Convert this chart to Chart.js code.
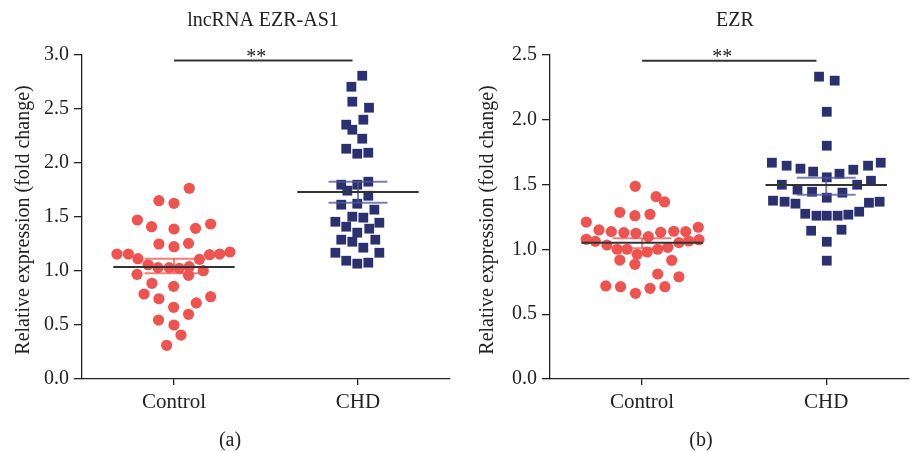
<!DOCTYPE html>
<html lang="en">

<head>
    <meta charset="UTF-8">
    <title>lncRNA EZR-AS1 / EZR</title>
    <script src="https://cdn.jsdelivr.net/npm/chart.js"></script>
    <style>
        body { margin: 0; background: #fff; }
        canvas { position: absolute; top: 0; }
    </style>
</head>

<body>
    <canvas id="chartA" width="470" height="451" style="left:0"></canvas>
    <canvas id="chartB" width="446" height="451" style="left:470px"></canvas>
</body>

<script>

    const categories = ['Control', 'CHD']

    // panel (a) lncRNA EZR-AS1
    const aYTicks = [0, 0.5, 1.0, 1.5, 2.0, 2.5, 3.0]
    const aControlX = [1.083, 0.918, 1.0, 0.801, 0.878, 1.0, 1.117, 1.199, 0.918, 1.0, 1.079, 0.690, 0.752, 0.804, 1.138, 1.193, 1.248, 1.304, 0.859, 0.913, 0.974, 1.029, 1.083, 0.799, 1.079, 1.159, 0.880, 0.998, 0.837, 0.918, 1.199, 1.121, 0.998, 1.079, 0.916, 1.0, 1.038, 0.960]
    const aControlY = [1.766, 1.651, 1.627, 1.472, 1.410, 1.389, 1.395, 1.435, 1.250, 1.225, 1.256, 1.157, 1.157, 1.114, 1.108, 1.151, 1.157, 1.176, 1.058, 1.031, 1.031, 1.025, 1.040, 0.969, 0.960, 1.003, 0.886, 0.858, 0.787, 0.743, 0.762, 0.704, 0.664, 0.599, 0.546, 0.500, 0.407, 0.312]
    const aChdX = [2.023, 1.964, 1.969, 2.060, 2.029, 1.936, 1.969, 2.023, 1.936, 1.996, 2.056, 1.909, 1.996, 2.056, 1.942, 2.056, 1.909, 1.996, 2.089, 1.969, 2.029, 1.877, 1.936, 2.116, 1.996, 2.061, 1.909, 1.969, 2.094, 2.029, 1.877, 2.116, 1.936, 1.996, 2.056]
    const aChdY = [2.808, 2.706, 2.568, 2.512, 2.401, 2.355, 2.308, 2.225, 2.132, 2.086, 2.095, 1.799, 1.799, 1.827, 1.744, 1.697, 1.614, 1.623, 1.568, 1.503, 1.494, 1.456, 1.410, 1.447, 1.355, 1.392, 1.290, 1.271, 1.290, 1.216, 1.169, 1.169, 1.095, 1.068, 1.077]
    const aMean = [1.037, 1.731]
    const aSemHi = [1.114, 1.827]
    const aSemLo = [0.979, 1.632]
    const aSigX = [1.0, 1.97]
    const aSigY = 2.95

    // panel (b) EZR
    const bYTicks = [0, 0.5, 1.0, 1.5, 2.0, 2.5]
    const bControlX = [0.963, 1.076, 1.122, 0.879, 0.961, 1.043, 0.697, 0.766, 0.833, 0.901, 0.966, 1.034, 1.101, 1.172, 1.237, 1.305, 0.697, 0.746, 0.809, 0.865, 0.918, 0.973, 1.028, 1.085, 1.140, 1.200, 1.253, 1.309, 0.879, 0.961, 1.161, 1.085, 1.200, 0.803, 0.883, 0.964, 1.043, 1.124]
    const bControlY = [1.487, 1.407, 1.366, 1.286, 1.260, 1.271, 1.211, 1.150, 1.137, 1.129, 1.124, 1.098, 1.132, 1.140, 1.137, 1.171, 1.078, 1.062, 1.034, 1.001, 1.001, 0.962, 0.980, 1.001, 1.016, 1.052, 1.065, 1.075, 0.918, 0.885, 0.916, 0.810, 0.789, 0.718, 0.712, 0.661, 0.700, 0.712]
    const bChdX = [1.961, 2.046, 2.003, 2.003, 1.705, 1.785, 1.860, 1.929, 2.003, 2.072, 2.147, 2.227, 2.296, 1.759, 1.844, 1.923, 2.003, 2.088, 2.168, 2.243, 1.711, 1.774, 1.833, 2.232, 2.290, 1.886, 1.947, 2.003, 2.062, 2.120, 2.179, 1.918, 2.083, 2.003, 2.003]
    const bChdY = [2.333, 2.302, 2.062, 1.800, 1.669, 1.646, 1.623, 1.600, 1.556, 1.584, 1.615, 1.646, 1.669, 1.499, 1.461, 1.445, 1.399, 1.438, 1.499, 1.530, 1.376, 1.368, 1.353, 1.360, 1.368, 1.275, 1.260, 1.260, 1.260, 1.268, 1.291, 1.144, 1.152, 1.059, 0.913]
    const bMean = [1.052, 1.497]
    const bSemHi = [1.086, 1.553]
    const bSemLo = [1.008, 1.422]
    const bSigX = [1.0, 1.947]
    const bSigY = 2.455

    const RED = '#EF5350'
    const BLUE = '#2B3070'
    const FONT = '"Liberation Serif", "DejaVu Serif", serif'

    function seg(x1, y1, x2, y2, color, width) {
        return {
            type: 'line', data: [{ x: x1, y: y1 }, { x: x2, y: y2 }],
            borderColor: color, borderWidth: width, pointRadius: 0, order: 1
        }
    }

    function groupSets(xs, ys, center, mean, hi, lo, color, style, radius, semColor) {
        return [
            {
                type: 'scatter', data: xs.map((x, i) => ({ x, y: ys[i] })),
                backgroundColor: color, borderWidth: 0,
                pointStyle: style, pointRadius: radius, order: 2
            },
            seg(center - 0.33, mean, center + 0.33, mean, '#333', 2),
            seg(center - 0.16, hi, center + 0.16, hi, semColor, 2),
            seg(center - 0.16, lo, center + 0.16, lo, semColor, 2),
            seg(center, lo, center, hi, semColor, 2)
        ]
    }

    function textPlugin(cfg) {
        return {
            id: 'texts',
            afterDraw(chart) {
                const ctx = chart.ctx
                const x = chart.scales.x
                ctx.save()
                ctx.fillStyle = '#222'
                ctx.font = '20px ' + FONT
                ctx.textAlign = 'center'
                ctx.textBaseline = 'alphabetic'
                ctx.fillText(cfg.title, cfg.titleX, 26)
                const starX = (x.getPixelForValue(cfg.sigX[0]) + x.getPixelForValue(cfg.sigX[1])) / 2 - 7
                ctx.fillText('**', starX, 63)
                ctx.fillText(cfg.panel, cfg.panelX, 446)
                ctx.translate(cfg.yTitleX, 220)
                ctx.rotate(-Math.PI / 2)
                ctx.textBaseline = 'middle'
                ctx.fillText('Relative expression (fold change)', 0, 0)
                ctx.restore()
            }
        }
    }

    function makeChart(id, cfg) {
        const datasets = [
            ...groupSets(cfg.ctrlX, cfg.ctrlY, 1, cfg.mean[0], cfg.hi[0], cfg.lo[0], RED, 'circle', 5.6, 'rgba(239,83,80,0.75)'),
            ...groupSets(cfg.chdX, cfg.chdY, 2, cfg.mean[1], cfg.hi[1], cfg.lo[1], BLUE, 'rect', 6.9, 'rgba(80,86,150,0.75)'),
            seg(cfg.sigX[0], cfg.sigY, cfg.sigX[1], cfg.sigY, '#333', 2)
        ]
        return new Chart(document.getElementById(id), {
            type: 'scatter',
            data: { datasets },
            options: {
                responsive: false,
                animation: false,
                layout: { padding: { top: 55, right: cfg.rightPad, left: 0, bottom: 0 } },
                plugins: { legend: { display: false }, tooltip: { enabled: false } },
                scales: {
                    x: {
                        type: 'linear', min: 0.5, max: cfg.xMax,
                        afterBuildTicks: s => { s.ticks = [{ value: 1 }, { value: 2 }] },
                        afterFit: s => { s.height = 72 },
                        ticks: {
                            callback: v => categories[v - 1],
                            color: '#222', font: { family: FONT, size: 21 }, padding: 5, maxRotation: 0
                        },
                        grid: { drawOnChartArea: false, tickLength: 6, color: '#222', lineWidth: 1.3 },
                        border: { color: '#222', width: 1.3 }
                    },
                    y: {
                        min: 0, max: cfg.yTicks[cfg.yTicks.length - 1],
                        afterBuildTicks: s => { s.ticks = cfg.yTicks.map(value => ({ value })) },
                        afterFit: s => { s.width = cfg.yWidth },
                        ticks: {
                            callback: v => v.toFixed(1),
                            color: '#222', font: { family: FONT, size: 20 }, padding: 5
                        },
                        grid: { drawOnChartArea: false, tickLength: 8, color: '#222', lineWidth: 1.3 },
                        border: { color: '#222', width: 1.3 }
                    }
                }
            },
            plugins: [textPlugin(cfg)]
        })
    }

    makeChart('chartA', {
        ctrlX: aControlX, ctrlY: aControlY, chdX: aChdX, chdY: aChdY,
        mean: aMean, hi: aSemHi, lo: aSemLo, sigX: aSigX, sigY: aSigY,
        yTicks: aYTicks, xMax: 2.5, rightPad: 20, yWidth: 82,
        title: 'lncRNA EZR-AS1', titleX: 263, panel: '(a)', panelX: 230, yTitleX: 24
    })

    makeChart('chartB', {
        ctrlX: bControlX, ctrlY: bControlY, chdX: bChdX, chdY: bChdY,
        mean: bMean, hi: bSemHi, lo: bSemLo, sigX: bSigX, sigY: bSigY,
        yTicks: bYTicks, xMax: 2.45, rightPad: 0, yWidth: 80,
        title: 'EZR', titleX: 265, panel: '(b)', panelX: 231, yTitleX: 18
    })

</script>

</html>
